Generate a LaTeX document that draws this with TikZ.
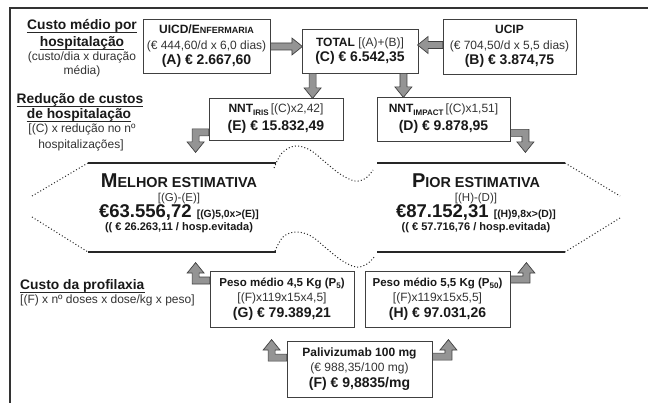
\documentclass[tikz,border=0pt]{standalone}
\usepackage{fontspec}
\setmainfont{Liberation Sans}
\usetikzlibrary{calc}
\newcommand\xrg{\fontsize{12}{15.5}\selectfont\mdseries\color{black!80}}
\newcommand\xbt{\fontsize{12}{15.5}\selectfont\bfseries\color{black!90}}
\newcommand\xbtg{\fontsize{11.5}{15.5}\selectfont\bfseries\color{black!90}}
\newcommand\xbv{\fontsize{14}{15.5}\selectfont\bfseries\color{black!90}}
\newcommand\xbl{\fontsize{13.8}{14}\selectfont\bfseries\color{black!90}}
\newcommand\xsm[1]{{\fontsize{9}{9}\selectfont #1}}
\newcommand\xsub[1]{\raisebox{-2.2pt}{\fontsize{8}{8}\selectfont\bfseries #1}}
\def\aw{3.5}\def\ah{8.5}\def\al{10.5}
\tikzset{
 box/.style={draw=black!75, line width=0.8pt, fill=white, inner sep=0pt, align=center, font=\fontsize{12}{15.5}\selectfont},
 barrow/.style={draw=black!75, fill=black!42, line width=0.7pt, line join=miter},
 hexline/.style={draw=black!85, line width=1.8pt},
 dotline/.style={draw=black!85, line width=1pt, dash pattern=on 1pt off 2.2pt},
 lab/.style={anchor=base, inner sep=0pt},
 frameline/.style={draw=black!80, line width=2pt},
 uline/.style={draw=black!85, line width=1.3pt},
}
% horizontal block arrow: start point, signed length (px)
\newcommand\harrow[2]{%
 \pgfmathsetmacro\hs{sign(#2)}%
 \begin{scope}[shift={#1}]
 \draw[barrow] (0,-\aw) -- ({#2-\hs*\al},-\aw) -- ({#2-\hs*\al},-\ah) -- (#2,0) -- ({#2-\hs*\al},\ah) -- ({#2-\hs*\al},\aw) -- (0,\aw) -- cycle;
 \end{scope}}
% vertical block arrow: start point, signed length (px, + down)
\newcommand\varrow[2]{%
 \pgfmathsetmacro\vs{sign(#2)}%
 \begin{scope}[shift={#1}]
 \draw[barrow] (-\aw,0) -- (-\aw,{#2-\vs*\al}) -- (-\ah,{#2-\vs*\al}) -- (0,#2) -- (\ah,{#2-\vs*\al}) -- (\aw,{#2-\vs*\al}) -- (\aw,0) -- cycle;
 \end{scope}}
% elbow block arrow: start point, dx to vertical shaft, dy to tip
\newcommand\elbow[3]{%
 \pgfmathsetmacro\hs{sign(#2)}%
 \pgfmathsetmacro\vs{sign(#3)}%
 \begin{scope}[shift={#1}]
 \draw[barrow] (0,{-\vs*\aw}) -- ({#2+\hs*\aw},{-\vs*\aw}) -- ({#2+\hs*\aw},{#3-\vs*\al}) -- ({#2+\hs*\ah},{#3-\vs*\al}) -- (#2,#3) -- ({#2-\hs*\ah},{#3-\vs*\al}) -- ({#2-\hs*\aw},{#3-\vs*\al}) -- ({#2-\hs*\aw},{\vs*\aw}) -- (0,{\vs*\aw}) -- cycle;
 \end{scope}}
\begin{document}
\begin{tikzpicture}[x=1pt,y=-1pt]
\useasboundingbox[fill=white] (0,0) rectangle (648,403);
\draw[frameline] (10,403) -- (10,8.5) -- (648,8.5);

% boxes
\node[box, minimum width=127pt, minimum height=54pt] (A) at (206.5,46.5)
 {\xbt UICD/E\xsm{NFERMARIA}\\ \xrg (€ 444,60/d x 6,0 dias)\\ \xbv (A) € 2.667,60};
\node[box, minimum width=116pt, minimum height=44pt] (C) at (360,51)
 {\xbt TOTAL \xrg[(A)+(B)]\\ \xbv (C) € 6.542,35};
\node[box, minimum width=133pt, minimum height=55pt] (B) at (509.5,46.5)
 {\xbt UCIP\\ \xrg (€ 704,50/d x 5,5 dias)\\ \xbv (B) € 3.874,75};
\node[box, minimum width=134pt, minimum height=42pt] (E) at (276,119)
 {\xbt NNT\xsub{IRIS}\,\xrg[(C)x2,42]\\[2.5pt] \xbv (E) € 15.832,49};
\node[box, minimum width=133pt, minimum height=44pt] (D) at (443.5,119)
 {\xbt NNT\xsub{IMPACT}\,\xrg[(C)x1,51]\\[2.5pt] \xbv (D) € 9.878,95};
\node[box, minimum width=144pt, minimum height=56pt] (G) at (282,299)
 {\xbtg Peso médio 4,5 Kg (P\xsub{5})\\ \xrg [(F)x119x15x4,5]\\ \xbv (G) € 79.389,21};
\node[box, minimum width=145pt, minimum height=56pt] (H) at (437.5,299)
 {\xbtg Peso médio 5,5 Kg (P\xsub{50})\\ \xrg [(F)x119x15x5,5]\\ \xbv (H) € 97.031,26};
\node[box, minimum width=145pt, minimum height=56pt] (F) at (359.5,369)
 {\xbt Palivizumab 100 mg\\ \xrg (€ 988,35/100 mg)\\ \xbv (F) € 9,8835/mg};

% arrows
\harrow{(A.east)}{32}
\harrow{($(B.west)+(0,-1.5)$)}{-25}
\varrow{($(C.south west)+(11,0)$)}{25}
\varrow{($(C.south east)+(-15,0)$)}{24}
\elbow{($(E.south west)+(0,-8)$)}{-13}{20}
\elbow{($(D.south east)+(0,-8.5)$)}{15}{19.5}
\elbow{($(G.north west)+(0,10)$)}{-14}{-18}
\elbow{($(H.north east)+(0,9)$)}{16}{-17}
\elbow{($(F.north west)+(0,17)$)}{-15}{-18}
\elbow{($(F.north east)+(0,16)$)}{16}{-17}

% estimate shapes
\draw[hexline] (88,163) -- (276,163);
\draw[hexline] (88,252) -- (276,252);
\draw[dotline] (88,163) -- (32,196);
\draw[dotline] (32,217) -- (88,252);
\draw[dotline] plot[smooth, tension=0.6] coordinates {(274,168) (282,153) (295,146) (310,150) (325,162) (340,174) (355,181) (366,178) (373,170)};
\draw[dotline] plot[smooth, tension=0.6] coordinates {(275,251) (283,237) (296,232) (311,236) (326,248) (341,260) (356,267) (367,264) (375,256)};
\draw[hexline] (377,163) -- (565,163);
\draw[hexline] (377,252) -- (565,252);
\draw[dotline] (565,163) -- (620,196);
\draw[dotline] (620,218) -- (565,252);

\node[lab] (mel1) at (179,188) {\bfseries\color{black!90}\fontsize{20}{20}\selectfont M\fontsize{14.4}{14.4}\selectfont ELHOR ESTIMATIVA};
\node[lab] (mel2) at (179,202) {\fontsize{11.5}{12}\selectfont\color{black!80}[(G)-(E)]};
\node[lab] (mel3) at (179,218) {\bfseries\color{black!90}\fontsize{18.5}{20}\selectfont €63.556,72 \fontsize{10.4}{10.4}\selectfont [(G)5,0x>(E)]};
\node[lab] (mel4) at (179,230.5) {\bfseries\color{black!90}\fontsize{11}{11}\selectfont (( € 26.263,11 / hosp.evitada)};

\node[lab] (pio1) at (476,188) {\bfseries\color{black!90}\fontsize{20}{20}\selectfont P\fontsize{14.4}{14.4}\selectfont IOR ESTIMATIVA};
\node[lab] (pio2) at (476,202) {\fontsize{11.5}{12}\selectfont\color{black!80}[(H)-(D)]};
\node[lab] (pio3) at (476,218) {\bfseries\color{black!90}\fontsize{18.5}{20}\selectfont €87.152,31 \fontsize{10.4}{10.4}\selectfont [(H)9,8x>(D)]};
\node[lab] (pio4) at (476,230.5) {\bfseries\color{black!90}\fontsize{11}{11}\selectfont (( € 57.716,76 / hosp.evitada)};

% left labels
\node[lab] (l1) at (82,30) {\xbl Custo médio por};
\node[lab] (l2) at (82,46.5) {\xbl hospitalação};
\node[lab] (l3) at (82,61) {\xrg (custo/dia x duração};
\node[lab] (l4) at (82,74.5) {\xrg média)};
\node[lab] (l5) at (80,104) {\xbl Redução de custos};
\node[lab] (l6) at (79,119) {\xbl de hospitalação};
\node[lab] (l7) at (82,132.5) {\xrg [(C) x redução no nº};
\node[lab] (l8) at (81,148.5) {\xrg hospitalizações]};
\node[lab, anchor=base west] (l9) at (20,290) {\xbl Custo da profilaxia};
\node[lab, anchor=base west] (l10) at (20,304) {\xrg [(F) x nº doses x dose/kg x peso]};
\foreach \n in {l1,l2,l5,l6,l9}
 \draw[uline] ($(\n.base west)+(0,2.8)$) -- ($(\n.base east)+(0,2.8)$);
\end{tikzpicture}
\end{document}
